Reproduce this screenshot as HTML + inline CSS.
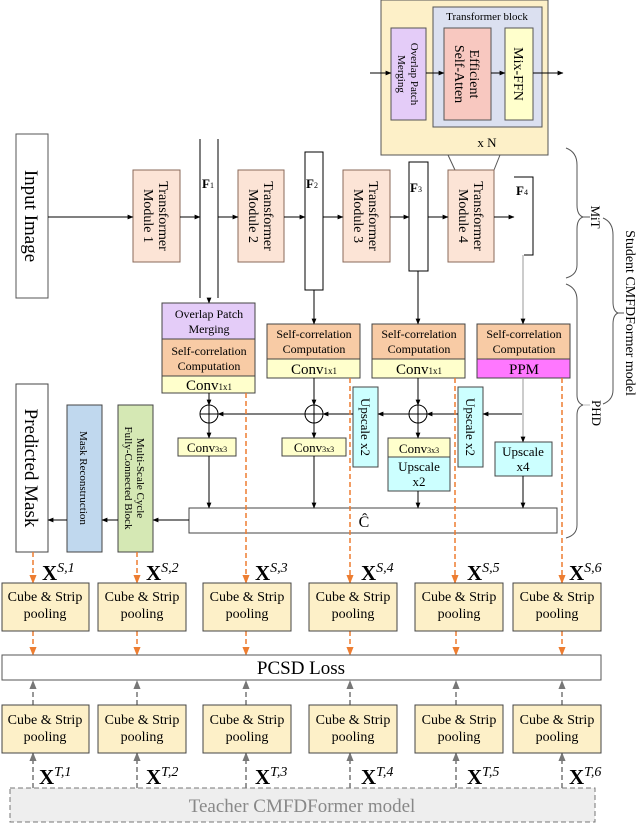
<!DOCTYPE html>
<html><head><meta charset="utf-8"><style>
html,body{margin:0;padding:0;background:#fff;}
svg{display:block;}
svg text, svg tspan{font-family:"Liberation Serif","Times New Roman",serif;}
</style></head><body>
<svg width="640" height="825" viewBox="0 0 640 825" xmlns="http://www.w3.org/2000/svg">
<defs>
<marker id="a" viewBox="0 0 10 10" refX="9" refY="5" markerWidth="6" markerHeight="6" orient="auto"><path d="M0,1 L10,5 L0,9z" fill="#000"/></marker>
<marker id="o" viewBox="0 0 10 10" refX="9" refY="5" markerWidth="6" markerHeight="6" orient="auto"><path d="M0,1 L10,5 L0,9z" fill="#ed7d31"/></marker>
<marker id="g" viewBox="0 0 10 10" refX="9" refY="5" markerWidth="6" markerHeight="6" orient="auto"><path d="M0,1 L10,5 L0,9z" fill="#777"/></marker>
</defs>
<g stroke="#555" stroke-width="1">
<rect x="381" y="0" width="167" height="155" fill="#fdf0c8"/>
<rect x="433" y="7" width="109" height="120" fill="#dbe0f0"/>
<rect x="391" y="28" width="35" height="92" fill="#e4ccf8"/>
<rect x="444" y="28" width="47" height="92" fill="#f8c8c0"/>
<rect x="505" y="28" width="28" height="92" fill="#ffffcc"/>
</g>
<g fill="none" stroke="#000" stroke-width="1">
<line x1="370" y1="73" x2="391" y2="73" marker-end="url(#a)"/>
<line x1="426" y1="73" x2="444" y2="73" marker-end="url(#a)"/>
<line x1="491" y1="73" x2="505" y2="73" marker-end="url(#a)"/>
<line x1="533" y1="73" x2="563" y2="73" marker-end="url(#a)"/>
</g>
<text x="487" y="20" font-size="11" text-anchor="middle">Transformer block</text>
<text x="487" y="147" font-size="13" text-anchor="middle">x N</text>
<g font-size="11" text-anchor="middle">
<text transform="translate(408,74) rotate(90)"><tspan x="0" y="-3">Overlap Patch</tspan><tspan x="0" y="10">Merging</tspan></text>
</g>
<g font-size="14" text-anchor="middle">
<text transform="translate(467,74) rotate(90)"><tspan x="0" y="-3">Efficient</tspan><tspan x="0" y="12">Self-Atten</tspan></text>
<text transform="translate(519,74) rotate(90)" y="5">Mix-FFN</text>
</g>
<line x1="448" y1="155" x2="455" y2="170" stroke="#555"/>
<line x1="500" y1="155" x2="494" y2="170" stroke="#555"/>

<rect x="16" y="134" width="32" height="164" fill="#fff" stroke="#555"/>
<text transform="translate(32,216) rotate(90)" font-size="19" text-anchor="middle" y="7">Input Image</text>
<g stroke="#8a6a5a" fill="#fce4d6">
<rect x="133" y="170" width="47" height="92"/>
<rect x="238" y="170" width="46" height="92"/>
<rect x="343" y="170" width="47" height="92"/>
<rect x="448" y="170" width="46" height="92"/>
</g>
<g font-size="14" text-anchor="middle">
<text transform="translate(156,216) rotate(90)"><tspan x="0" y="-3">Transformer</tspan><tspan x="0" y="12">Module 1</tspan></text>
<text transform="translate(261,216) rotate(90)"><tspan x="0" y="-3">Transformer</tspan><tspan x="0" y="12">Module 2</tspan></text>
<text transform="translate(366,216) rotate(90)"><tspan x="0" y="-3">Transformer</tspan><tspan x="0" y="12">Module 3</tspan></text>
<text transform="translate(471,216) rotate(90)"><tspan x="0" y="-3">Transformer</tspan><tspan x="0" y="12">Module 4</tspan></text>
</g>
<g stroke="#000" fill="none">
<line x1="200" y1="139" x2="200" y2="298"/>
<line x1="218" y1="139" x2="218" y2="298"/>
<rect x="305" y="152" width="18" height="138" fill="#fff"/>
<rect x="409" y="162" width="19" height="109" fill="#fff"/>
<path d="M514,177 H533 V255 H524"/>
<line x1="48" y1="217" x2="133" y2="217" marker-end="url(#a)"/>
<line x1="180" y1="217" x2="200" y2="217" marker-end="url(#a)"/>
<line x1="218" y1="217" x2="238" y2="217" marker-end="url(#a)"/>
<line x1="284" y1="217" x2="305" y2="217" marker-end="url(#a)"/>
<line x1="323" y1="217" x2="343" y2="217" marker-end="url(#a)"/>
<line x1="390" y1="217" x2="409" y2="217" marker-end="url(#a)"/>
<line x1="428" y1="217" x2="448" y2="217" marker-end="url(#a)"/>
<line x1="494" y1="217" x2="514" y2="217" marker-end="url(#a)"/>
</g>
<g font-size="13" font-weight="bold">
<text x="202" y="188">F<tspan font-size="8" font-weight="normal">1</tspan></text>
<text x="306" y="188">F<tspan font-size="8" font-weight="normal">2</tspan></text>
<text x="410" y="192">F<tspan font-size="8" font-weight="normal">3</tspan></text>
<text x="516" y="195">F<tspan font-size="8" font-weight="normal">4</tspan></text>
</g>

<g fill="none" stroke="#555">
<path d="M566,148 Q577,152 577,165 V205 Q577,215 583,217 Q577,219 577,229 V265 Q577,275 566,278"/>
<path d="M566,284 Q577,288 577,300 V395 Q577,403 583,405 Q577,407 577,415 V525 Q577,535 566,538"/>
<line x1="583" y1="217" x2="590" y2="217"/>
<line x1="583" y1="405" x2="590" y2="405" stroke="#bbb"/>
<path d="M603,218 Q613,222 613,235 V302 Q613,311 618,313 Q613,315 613,324 V390 Q613,400 603,404"/>
<line x1="618" y1="313" x2="624" y2="313"/>
</g>
<text transform="translate(595,217) rotate(90)" font-size="13" text-anchor="middle" y="4">MiT</text>
<text transform="translate(596,413) rotate(90)" font-size="13" text-anchor="middle" y="4">PHD</text>
<text transform="translate(630,313) rotate(90)" font-size="14" text-anchor="middle" y="4">Student CMFDFormer model</text>

<g stroke="#444">
<rect x="162" y="303" width="93" height="36" fill="#e4ccf8"/>
<rect x="162" y="339" width="93" height="37" fill="#f8cba5"/>
<rect x="162" y="376" width="93" height="17" fill="#ffffcc"/>
<rect x="267" y="324" width="93" height="35" fill="#f8cba5"/>
<rect x="267" y="359" width="93" height="19" fill="#ffffcc"/>
<rect x="372" y="324" width="93" height="35" fill="#f8cba5"/>
<rect x="372" y="359" width="93" height="19" fill="#ffffcc"/>
<rect x="477" y="324" width="93" height="35" fill="#f8cba5"/>
<rect x="477" y="359" width="93" height="19" fill="#ff77ff"/>
</g>
<g font-size="12" text-anchor="middle">
<text x="209" y="318">Overlap Patch</text><text x="209" y="333">Merging</text>
<text x="209" y="355">Self-correlation</text><text x="209" y="370">Computation</text>
<text x="314" y="338">Self-correlation</text><text x="314" y="353">Computation</text>
<text x="419" y="338">Self-correlation</text><text x="419" y="353">Computation</text>
<text x="524" y="338">Self-correlation</text><text x="524" y="353">Computation</text>
</g>
<g font-size="15" text-anchor="middle">
<text x="209" y="390">Conv<tspan font-size="9">1x1</tspan></text>
<text x="314" y="374">Conv<tspan font-size="9">1x1</tspan></text>
<text x="419" y="374">Conv<tspan font-size="9">1x1</tspan></text>
<text x="524" y="374">PPM</text>
</g>
<g stroke="#444">
<rect x="353" y="387" width="25" height="80" fill="#ccffff"/>
<rect x="458" y="387" width="25" height="80" fill="#ccffff"/>
<rect x="178" y="438" width="58" height="18" fill="#ffffcc"/>
<rect x="282" y="438" width="64" height="18" fill="#ffffcc"/>
<rect x="388" y="438" width="62" height="19" fill="#ffffcc"/>
<rect x="388" y="457" width="62" height="34" fill="#ccffff"/>
<rect x="495" y="442" width="57" height="34" fill="#ccffff"/>
<rect x="189" y="508" width="368" height="25" fill="#fff"/>
<rect x="118" y="405" width="35" height="147" fill="#d5e8b4"/>
<rect x="67" y="405" width="35" height="147" fill="#c0d8ee"/>
<rect x="16" y="384" width="32" height="168" fill="#fff"/>
</g>
<g font-size="13" text-anchor="middle">
<text transform="translate(365,427) rotate(90)" y="4">Upscale x2</text>
<text transform="translate(470,427) rotate(90)" y="4">Upscale x2</text>
<text x="207" y="452">Conv<tspan font-size="8">3x3</tspan></text>
<text x="314" y="452">Conv<tspan font-size="8">3x3</tspan></text>
<text x="419" y="453">Conv<tspan font-size="8">3x3</tspan></text>
<text x="419" y="471">Upscale</text><text x="419" y="486">x2</text>
<text x="523" y="456">Upscale</text><text x="523" y="471">x4</text>
<text x="364" y="527" font-size="16">Ĉ</text>
</g>
<g font-size="11" text-anchor="middle">
<text transform="translate(135,478) rotate(90)"><tspan x="0" y="-2">Multi-Scale Cycle</tspan><tspan x="0" y="10">Fully-Connected Block</tspan></text>
<text transform="translate(84,478) rotate(90)" y="4">Mask Reconstruction</text>
</g>
<text transform="translate(32,468) rotate(90)" font-size="19" text-anchor="middle" y="7">Predicted Mask</text>

<g stroke="#000" fill="none">
<line x1="209" y1="298" x2="209" y2="303" marker-end="url(#a)"/>
<line x1="314" y1="290" x2="314" y2="324" marker-end="url(#a)"/>
<line x1="418" y1="271" x2="418" y2="324" marker-end="url(#a)"/>
<line x1="209" y1="393" x2="209" y2="405" marker-end="url(#a)"/>
<line x1="314" y1="378" x2="314" y2="405" marker-end="url(#a)"/>
<line x1="418" y1="378" x2="418" y2="405" marker-end="url(#a)"/>
<circle cx="209" cy="414" r="9"/><line x1="200" y1="414" x2="218" y2="414"/><line x1="209" y1="405" x2="209" y2="423"/>
<circle cx="314" cy="414" r="9"/><line x1="305" y1="414" x2="323" y2="414"/><line x1="314" y1="405" x2="314" y2="423"/>
<circle cx="418" cy="414" r="9"/><line x1="409" y1="414" x2="427" y2="414"/><line x1="418" y1="405" x2="418" y2="423"/>
<line x1="522" y1="414" x2="483" y2="414" marker-end="url(#a)"/>
<line x1="458" y1="414" x2="427" y2="414" marker-end="url(#a)"/>
<line x1="409" y1="414" x2="378" y2="414" marker-end="url(#a)"/>
<line x1="353" y1="414" x2="323" y2="414" marker-end="url(#a)"/>
<line x1="305" y1="414" x2="218" y2="414" marker-end="url(#a)"/>
<line x1="209" y1="423" x2="209" y2="438" marker-end="url(#a)"/>
<line x1="314" y1="423" x2="314" y2="438" marker-end="url(#a)"/>
<line x1="418" y1="423" x2="418" y2="438" marker-end="url(#a)"/>
<line x1="209" y1="456" x2="209" y2="508" marker-end="url(#a)"/>
<line x1="314" y1="456" x2="314" y2="508" marker-end="url(#a)"/>
<line x1="418" y1="491" x2="418" y2="508" marker-end="url(#a)"/>
<line x1="523" y1="476" x2="523" y2="508" marker-end="url(#a)"/>
<line x1="189" y1="520" x2="153" y2="520" marker-end="url(#a)"/>
<line x1="118" y1="520" x2="102" y2="520" marker-end="url(#a)"/>
<line x1="67" y1="520" x2="48" y2="520" marker-end="url(#a)"/>
</g>
<g stroke="#999" fill="none">
<line x1="523" y1="255" x2="523" y2="324" marker-end="url(#a)"/>
<line x1="523" y1="378" x2="523" y2="442" marker-end="url(#a)"/>
</g>

<g stroke="#ed7d31" stroke-width="1.5" stroke-dasharray="5,3" fill="none">
<line x1="246" y1="393" x2="246" y2="583" marker-end="url(#o)"/>
<line x1="350" y1="378" x2="350" y2="583" marker-end="url(#o)"/>
<line x1="455" y1="378" x2="455" y2="583" marker-end="url(#o)"/>
<line x1="562" y1="378" x2="562" y2="583" marker-end="url(#o)"/>
<line x1="33" y1="552" x2="33" y2="583" marker-end="url(#o)"/>
<line x1="137" y1="552" x2="137" y2="583" marker-end="url(#o)"/>
<line x1="33" y1="631" x2="33" y2="655" marker-end="url(#o)"/>
<line x1="137" y1="631" x2="137" y2="655" marker-end="url(#o)"/>
<line x1="246" y1="631" x2="246" y2="655" marker-end="url(#o)"/>
<line x1="350" y1="631" x2="350" y2="655" marker-end="url(#o)"/>
<line x1="456" y1="631" x2="456" y2="655" marker-end="url(#o)"/>
<line x1="562" y1="631" x2="562" y2="655" marker-end="url(#o)"/>
</g>
<g stroke="#777" stroke-width="1.5" stroke-dasharray="5,3" fill="none">
<line x1="33" y1="705" x2="33" y2="681" marker-end="url(#g)"/>
<line x1="137" y1="705" x2="137" y2="681" marker-end="url(#g)"/>
<line x1="246" y1="705" x2="246" y2="681" marker-end="url(#g)"/>
<line x1="350" y1="705" x2="350" y2="681" marker-end="url(#g)"/>
<line x1="456" y1="705" x2="456" y2="681" marker-end="url(#g)"/>
<line x1="562" y1="705" x2="562" y2="681" marker-end="url(#g)"/>
<line x1="33" y1="788" x2="33" y2="753" marker-end="url(#g)"/>
<line x1="137" y1="788" x2="137" y2="753" marker-end="url(#g)"/>
<line x1="246" y1="788" x2="246" y2="753" marker-end="url(#g)"/>
<line x1="350" y1="788" x2="350" y2="753" marker-end="url(#g)"/>
<line x1="456" y1="788" x2="456" y2="753" marker-end="url(#g)"/>
<line x1="562" y1="788" x2="562" y2="753" marker-end="url(#g)"/>
</g>

<g stroke="#444" fill="#fdf0c8">
<rect x="2" y="583" width="87" height="48"/><rect x="98" y="583" width="88" height="48"/><rect x="203" y="583" width="88" height="48"/><rect x="309" y="583" width="88" height="48"/><rect x="415" y="583" width="88" height="48"/><rect x="513" y="583" width="88" height="48"/>
<rect x="2" y="705" width="87" height="48"/><rect x="98" y="705" width="88" height="48"/><rect x="203" y="705" width="88" height="48"/><rect x="309" y="705" width="88" height="48"/><rect x="415" y="705" width="88" height="48"/><rect x="513" y="705" width="88" height="48"/>
</g>
<rect x="2" y="655" width="599" height="25" fill="#fff" stroke="#555"/>
<text x="301" y="674" font-size="19" text-anchor="middle">PCSD Loss</text>
<rect x="10" y="788" width="585" height="34" fill="#eee" stroke="#777" stroke-dasharray="5,3"/>
<text x="302" y="812" font-size="19" fill="#888" text-anchor="middle">Teacher CMFDFormer model</text>
<g font-size="14" text-anchor="middle">
<text x="45" y="601">Cube &amp; Strip</text><text x="45" y="618">pooling</text>
<text x="142" y="601">Cube &amp; Strip</text><text x="142" y="618">pooling</text>
<text x="247" y="601">Cube &amp; Strip</text><text x="247" y="618">pooling</text>
<text x="353" y="601">Cube &amp; Strip</text><text x="353" y="618">pooling</text>
<text x="459" y="601">Cube &amp; Strip</text><text x="459" y="618">pooling</text>
<text x="557" y="601">Cube &amp; Strip</text><text x="557" y="618">pooling</text>
<text x="45" y="724">Cube &amp; Strip</text><text x="45" y="741">pooling</text>
<text x="142" y="724">Cube &amp; Strip</text><text x="142" y="741">pooling</text>
<text x="247" y="724">Cube &amp; Strip</text><text x="247" y="741">pooling</text>
<text x="353" y="724">Cube &amp; Strip</text><text x="353" y="741">pooling</text>
<text x="459" y="724">Cube &amp; Strip</text><text x="459" y="741">pooling</text>
<text x="557" y="724">Cube &amp; Strip</text><text x="557" y="741">pooling</text>
</g>
<g font-size="21" font-weight="bold">
<text x="42" y="580">X<tspan font-size="14" font-weight="normal" font-style="italic" dy="-8">S,1</tspan></text>
<text x="146" y="580">X<tspan font-size="14" font-weight="normal" font-style="italic" dy="-8">S,2</tspan></text>
<text x="255" y="580">X<tspan font-size="14" font-weight="normal" font-style="italic" dy="-8">S,3</tspan></text>
<text x="361" y="580">X<tspan font-size="14" font-weight="normal" font-style="italic" dy="-8">S,4</tspan></text>
<text x="467" y="580">X<tspan font-size="14" font-weight="normal" font-style="italic" dy="-8">S,5</tspan></text>
<text x="569" y="580">X<tspan font-size="14" font-weight="normal" font-style="italic" dy="-8">S,6</tspan></text>
<text x="39" y="784">X<tspan font-size="14" font-weight="normal" font-style="italic" dy="-8">T,1</tspan></text>
<text x="146" y="784">X<tspan font-size="14" font-weight="normal" font-style="italic" dy="-8">T,2</tspan></text>
<text x="255" y="784">X<tspan font-size="14" font-weight="normal" font-style="italic" dy="-8">T,3</tspan></text>
<text x="361" y="784">X<tspan font-size="14" font-weight="normal" font-style="italic" dy="-8">T,4</tspan></text>
<text x="467" y="784">X<tspan font-size="14" font-weight="normal" font-style="italic" dy="-8">T,5</tspan></text>
<text x="569" y="784">X<tspan font-size="14" font-weight="normal" font-style="italic" dy="-8">T,6</tspan></text>
</g>
</svg>
</body></html>
